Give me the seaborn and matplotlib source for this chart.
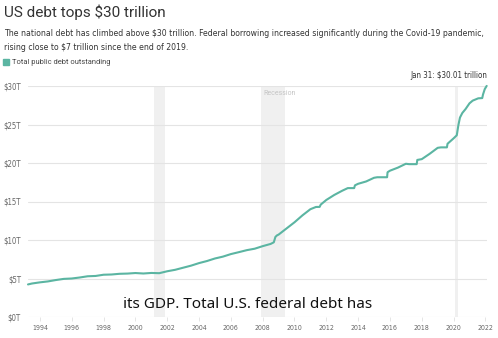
import matplotlib
matplotlib.use("Agg")
import matplotlib.pyplot as plt
import matplotlib.font_manager as fm
import seaborn as sns
import pandas as pd

# Total public debt outstanding, trillions of dollars
years = [1993.25, 1993.5, 1994.0, 1994.5, 1995.0, 1995.5, 1996.0, 1996.5,
         1997.0, 1997.5, 1998.0, 1998.5, 1999.0, 1999.5, 2000.0, 2000.5,
         2001.0, 2001.5, 2002.0, 2002.5, 2003.0, 2003.5, 2004.0, 2004.5,
         2005.0, 2005.5, 2006.0, 2006.5, 2007.0, 2007.5, 2008.0, 2008.5,
         2008.7, 2008.8, 2008.9, 2009.0, 2009.5, 2010.0, 2010.5, 2011.0,
         2011.35, 2011.58, 2011.65, 2012.0, 2012.5, 2013.0, 2013.35, 2013.75,
         2013.8, 2014.0, 2014.5, 2015.0, 2015.2, 2015.82, 2015.85, 2016.0,
         2016.5, 2017.0, 2017.2, 2017.68, 2017.72, 2018.0, 2018.5, 2019.0,
         2019.2, 2019.58, 2019.62, 2020.0, 2020.2, 2020.3, 2020.4, 2020.55,
         2020.75, 2021.0, 2021.2, 2021.55, 2021.8, 2021.85, 2021.96, 2022.08]
debt = [4.23, 4.35, 4.50, 4.62, 4.80, 4.95, 5.00, 5.13,
        5.29, 5.33, 5.49, 5.52, 5.61, 5.64, 5.71, 5.65,
        5.72, 5.69, 5.94, 6.13, 6.40, 6.67, 7.00, 7.27,
        7.60, 7.84, 8.17, 8.42, 8.68, 8.87, 9.20, 9.49,
        9.70, 10.40, 10.60, 10.70, 11.50, 12.30, 13.20, 14.00,
        14.29, 14.30, 14.60, 15.20, 15.85, 16.40, 16.74, 16.74,
        17.10, 17.30, 17.60, 18.08, 18.15, 18.15, 18.80, 19.00,
        19.40, 19.90, 19.85, 19.85, 20.40, 20.50, 21.20, 21.97,
        22.03, 22.03, 22.50, 23.20, 23.60, 24.90, 25.90, 26.50,
        27.00, 27.75, 28.10, 28.40, 28.43, 28.90, 29.60, 30.01]

recession_start = [2001.17, 2007.92, 2020.12]
recession_end = [2001.83, 2009.42, 2020.27]

x_ticks = list(range(1994, 2023, 2))
y_ticks = [0, 5, 10, 15, 20, 25, 30]
y_labels = ["$0T", "$5T", "$10T", "$15T", "$20T", "$25T", "$30T"]

has_condensed = any(f.name == "DejaVu Sans" and f.stretch == "condensed"
                    for f in fm.fontManager.ttflist)
cond = dict(family="DejaVu Sans", stretch="condensed") if has_condensed else dict(family="Roboto")
sub_size = 6.2 if has_condensed else 5.6

sns.set_theme(style="white")
plt.rcParams["font.family"] = ["Roboto", "DejaVu Sans"]

line_color = "#5bb5a2"
df = pd.DataFrame({"year": years, "debt": debt})

fig = plt.figure(figsize=(4.98, 3.38), dpi=100)
ax = fig.add_axes([28 / 498, 1 - 317 / 338, (487 - 28) / 498, (317 - 86) / 338])

for s, e in zip(recession_start, recession_end):
    ax.axvspan(s, e, color="#f0f0f0", lw=0, zorder=0)

for yv in y_ticks:
    ax.axhline(yv, color="#e4e4e4", lw=0.8, zorder=1)

sns.lineplot(data=df, x="year", y="debt", ax=ax, color=line_color, lw=1.5,
             zorder=3, clip_on=False)

ax.set_xlim(1993.25, 2022.1)
ax.set_ylim(0, 30)
ax.set_xticks(x_ticks)
ax.set_xticklabels([str(t) for t in x_ticks], fontsize=5.0, color="#666666", **cond)
ax.set_yticks(y_ticks)
ax.set_yticklabels(y_labels, fontsize=5.6, color="#666666", **cond)
ax.tick_params(axis="y", length=0, pad=5)
ax.tick_params(axis="x", length=3, width=0.6, color="#e0e0e0", pad=3, bottom=True)
ax.set_xlabel("")
ax.set_ylabel("")
for sp in ax.spines.values():
    sp.set_visible(False)

ax.text(2008.05, 29.0, "Recession", fontsize=5, color="#c4c4c4", va="center", ha="left")
ax.text(2022.1, 30.75, "Jan 31: $30.01 trillion", fontsize=5.8, color="#333333",
        ha="right", va="bottom", **cond)

fig.text(4 / 498, 1 - 12 / 338, "US debt tops $30 trillion", fontsize=11,
         color="#333333", ha="left", va="center")
fig.text(4 / 498, 1 - 33 / 338, "The national debt has climbed above $30 trillion. Federal borrowing increased significantly during the Covid-19 pandemic,",
         fontsize=sub_size, color="#333333", ha="left", va="center", **cond)
fig.text(4 / 498, 1 - 47 / 338, "rising close to $7 trillion since the end of 2019.",
         fontsize=sub_size, color="#333333", ha="left", va="center", **cond)
fig.patches.append(plt.Rectangle((3 / 498, 1 - 65 / 338), 6 / 498, 6 / 338,
                                 transform=fig.transFigure, color=line_color))
fig.text(12 / 498, 1 - 62 / 338, "Total public debt outstanding", fontsize=5.4,
         color="#444444", ha="left", va="center")

fig.text(123 / 498, 1 - 304 / 338, "its GDP. Total U.S. federal debt has",
         fontsize=11, color="#111111", ha="left", va="center",
         family=["Noto Sans", "DejaVu Sans"])

fig.savefig("out.png", dpi=100)
